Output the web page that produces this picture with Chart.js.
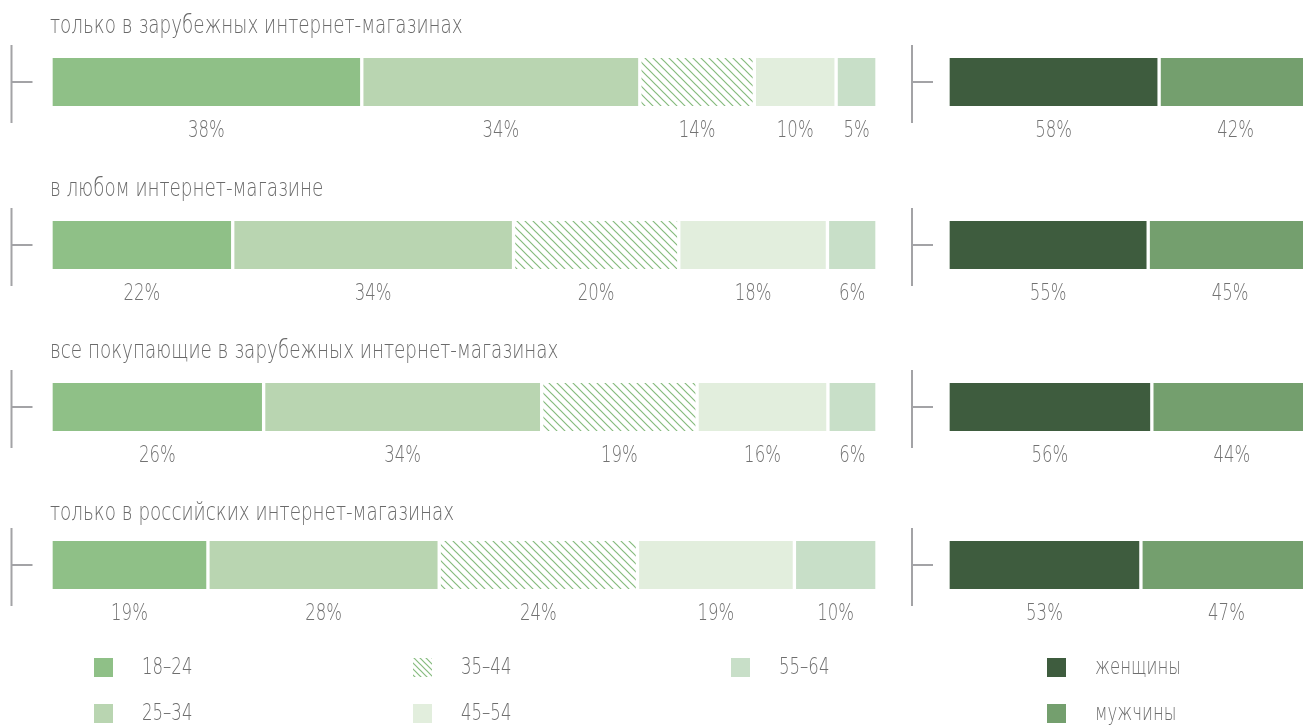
<!DOCTYPE html>
<html><head><meta charset="utf-8">
<script src="https://cdn.jsdelivr.net/npm/chart.js@4.4.0/dist/chart.umd.min.js"></script>
<style>
html,body{margin:0;padding:0;background:#fff;overflow:hidden;width:1303px;height:725px;position:relative;}
canvas.c{position:absolute;}
</style></head><body>
<script>
// ---- data ----
const categories = [
  'только в зарубежных интернет-магазинах',
  'в любом интернет-магазине',
  'все покупающие в зарубежных интернет-магазинах',
  'только в российских интернет-магазинах'
];
const ageGroups = ['18–24', '25–34', '35–44', '45–54', '55–64'];
const age18_24 = [38, 22, 26, 19];
const age25_34 = [34, 34, 34, 28];
const age35_44 = [14, 20, 19, 24];
const age45_54 = [10, 18, 16, 19];
const age55_64 = [5, 6, 6, 10];
const genders = ['женщины', 'мужчины'];
const women = [58, 55, 56, 53];
const men = [42, 45, 44, 47];

// ---- styles / layout ----
const FONT = "'DejaVu Sans',sans-serif";
const ageColors = ['#8fc087', '#b9d5b1', 'HATCH', '#e2eedd', '#c8dfc8'];
const genderColors = ['#3e5c3e', '#749f6e'];
const barTops = [58, 221, 383, 541];
const titleOffsets = [31, 31, 31, 27];
const BAR_H = 48, PAD_TOP = 45, PAD_BOTTOM = 40;

function makeHatch(step) {
  const c = document.createElement('canvas');
  c.width = step; c.height = step;
  const g = c.getContext('2d');
  g.fillStyle = '#fff'; g.fillRect(0, 0, step, step);
  g.strokeStyle = '#86bb7e'; g.lineWidth = 1.2;
  g.beginPath();
  g.moveTo(-1, -1); g.lineTo(step + 1, step + 1);
  g.moveTo(-1, step - 1); g.lineTo(1, step + 1);
  g.moveTo(step - 1, -1); g.lineTo(step + 1, 1);
  g.stroke();
  return g.createPattern(c, 'repeat');
}
const hatch = makeHatch(8);

function squeezedText(ctx, text, x, y, sx) {
  ctx.save();
  ctx.translate(x, y);
  ctx.scale(sx, 1);
  ctx.fillText(text, 0, 0);
  ctx.restore();
}

const decor = {
  id: 'decor',
  afterDraw(chart, args, opts) {
    const ctx = chart.ctx, a = chart.chartArea;
    const y = chart.scales.y.getPixelForValue(0);
    const ax = a.left - opts.axisGap;
    ctx.save();
    ctx.strokeStyle = '#a3a3a6';
    ctx.lineWidth = 2;
    ctx.beginPath();
    ctx.moveTo(ax, a.top - 13); ctx.lineTo(ax, a.bottom + 17);
    ctx.moveTo(ax, y); ctx.lineTo(ax + 21, y);
    ctx.stroke();
    ctx.fillStyle = '#727272';
    ctx.font = '200 23px ' + FONT;
    ctx.textAlign = 'center';
    ctx.textBaseline = 'middle';
    chart.data.datasets.forEach((ds, i) => {
      const el = chart.getDatasetMeta(i).data[0];
      squeezedText(ctx, ds.data[0] + '%', (el.x + el.base) / 2, a.bottom + 25, 0.72);
    });
    if (opts.title) {
      ctx.fillStyle = '#6a6a6a';
      ctx.font = '200 24px ' + FONT;
      ctx.textAlign = 'left';
      squeezedText(ctx, opts.title, a.left - 1, a.top - opts.titleOffset, 0.765);
    }
    ctx.restore();
  }
};

function rowChart(left, top, width, padLeft, padRight, label, series, names, colors, title, titleOffset, axisGap) {
  const cv = document.createElement('canvas');
  cv.className = 'c';
  cv.style.left = left + 'px'; cv.style.top = top + 'px';
  cv.style.width = width + 'px'; cv.style.height = (BAR_H + PAD_TOP + PAD_BOTTOM) + 'px';
  cv.width = width; cv.height = BAR_H + PAD_TOP + PAD_BOTTOM;
  document.body.appendChild(cv);
  const total = series.reduce((s, v) => s + v, 0);
  new Chart(cv, {
    type: 'bar',
    data: {
      labels: [label],
      datasets: series.map((v, i) => ({
        label: names[i],
        data: [v],
        backgroundColor: colors[i] === 'HATCH' ? hatch : colors[i],
        borderColor: '#ffffff',
        borderWidth: { left: 2, right: 2, top: 0, bottom: 0 },
        borderSkipped: false
      }))
    },
    options: {
      indexAxis: 'y',
      responsive: false,
      animation: false,
      events: [],
      layout: { padding: { left: padLeft, right: padRight, top: PAD_TOP, bottom: PAD_BOTTOM } },
      datasets: { bar: { categoryPercentage: 1, barPercentage: 1 } },
      scales: {
        x: { stacked: true, min: 0, max: total, display: false },
        y: { stacked: true, display: false }
      },
      plugins: {
        legend: { display: false },
        tooltip: { enabled: false },
        decor: { title: title, titleOffset: titleOffset, axisGap: axisGap }
      }
    },
    plugins: [decor]
  });
}

categories.forEach((cat, r) => {
  const top = barTops[r] - PAD_TOP;
  rowChart(0, top, 880, 51, 3, cat,
    [age18_24[r], age25_34[r], age35_44[r], age45_54[r], age55_64[r]],
    ageGroups, ageColors, cat, titleOffsets[r], 39.5);
  rowChart(890, top, 422, 58, 0, cat,
    [women[r], men[r]], genders, genderColors, null, 0, 36);
});

// ---- legend (canvas) ----
const legendItems = [
  ...ageGroups.map((g, i) => ({ text: g, color: ageColors[i] })),
  ...genders.map((g, i) => ({ text: g, color: genderColors[i] }))
];
const LEG_TOP = 640;
const legendPos = [[94, 658], [94, 704], [413, 658], [413, 704], [731, 658], [1047, 658], [1047, 704]];
const lc = document.createElement('canvas');
lc.className = 'c';
lc.width = 1303; lc.height = 725 - LEG_TOP;
lc.style.left = '0px'; lc.style.top = LEG_TOP + 'px';
document.body.appendChild(lc);
const lctx = lc.getContext('2d');
const swHatch = makeHatch(6);
legendItems.forEach((it, i) => {
  const x = legendPos[i][0], y = legendPos[i][1] - LEG_TOP;
  lctx.fillStyle = it.color === 'HATCH' ? swHatch : it.color;
  lctx.fillRect(x, y, 19, 19);
  lctx.fillStyle = '#6e6e6e';
  lctx.font = '200 23px ' + FONT;
  lctx.textAlign = 'left';
  lctx.textBaseline = 'middle';
  squeezedText(lctx, it.text, x + 48, y + 10, 0.72);
});
</script>
</body></html>
